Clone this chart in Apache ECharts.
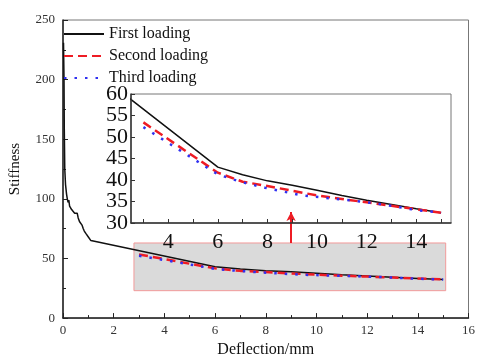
<!DOCTYPE html>
<html><head><meta charset="utf-8">
<script src="https://cdn.jsdelivr.net/npm/echarts@6/dist/echarts.min.js"></script>
<style>html,body{margin:0;padding:0;background:#fff}#c{width:478px;height:363px}</style>
</head><body><div id="c"></div>
<script>
var seriesNames = ['First loading', 'Second loading', 'Third loading'];
var firstLoading = [[0.02,231],[0.04,200],[0.05,160],[0.07,125],[0.1,112],[0.14,104],[0.17,100],[0.2,97],[0.23,99],[0.26,94],[0.3,95],[0.34,91],[0.4,90],[0.46,88],[0.52,87],[0.56,88],[0.6,84],[0.65,81],[0.7,80],[0.75,78],[0.8,75],[0.84,73],[0.9,71],[1.0,68],[1.1,65],[6,43],[7,41.2],[8,39.8],[9,38.8],[10,37.6],[11,36.4],[12,35.3],[13,34.3],[14,33.3],[15,32.4]];
var secondLoading = [[3,53.4],[6,41.7],[7,39.6],[8,38.6],[9,37.5],[10,36.4],[11,35.6],[12,34.8],[13,34],[14,33.2],[15,32.4]];
var thirdLoading = [[3,52.3],[6,41.3],[6.9,39.6],[7.9,38.2],[9.4,36.4],[11.3,35.3],[12.3,34.6],[13,34],[14,33],[15,32.4]];
var insetXLabels = [4,6,8,10,12,14];
var insetXTicks = [3,4,5,6,7,8,9,10,11,12,13,14,15];
var insetYLabelsA = [30,40,50,60];
var insetYLabelsB = [35,45,55];
var zoomBox = [[2.8,63],[15.1,23]];
var arrowLine = [[9,63],[9,89]];

var serif = '"Liberation Serif","DejaVu Serif",serif';
var colors = ['#111111','#ee1c24','#3030f0'];
var styles = [
  {type:'solid', width:1.5},
  {type:[9,5], width:2.5},
  {type:[2.5,8], width:2.5}
];
var allData = [firstLoading, secondLoading, thirdLoading];

var series = [];
for (var i=0;i<3;i++){
  var s = {name:seriesNames[i], type:'line', xAxisIndex:0, yAxisIndex:0, data:allData[i], symbol:'none',
    lineStyle:Object.assign({color:colors[i]}, styles[i]), itemStyle:{color:colors[i]}, z:3};
  if (i===0){
    s.markArea = {silent:true, itemStyle:{color:'rgba(205,205,205,0.75)', borderColor:'#f29a9a', borderWidth:1},
      data:[[{coord:zoomBox[0]},{coord:zoomBox[1]}]]};
    s.markLine = {silent:true, symbol:['none','arrow'], symbolSize:[7,9], label:{show:false},
      lineStyle:{color:'#ee1c24', width:2, type:'solid'},
      data:[[{coord:arrowLine[0]},{coord:arrowLine[1]}]]};
  }
  series.push(s);
  series.push({name:seriesNames[i], type:'line', xAxisIndex:1, yAxisIndex:1, data:allData[i], symbol:'none',
    lineStyle:Object.assign({color:colors[i]}, styles[i]), itemStyle:{color:colors[i]}, z:5});
}

var insetYLabelStyle = {fontFamily:serif, fontSize:22, color:'#111', margin:3, showMinLabel:true, showMaxLabel:true};

var chart = echarts.init(document.getElementById('c'), null, {renderer:'canvas'});
chart.setOption({
  animation:false,
  backgroundColor:'#fff',
  legend:{data:seriesNames, orient:'vertical', left:58, top:21, itemWidth:40, itemHeight:14, itemGap:6,
    itemStyle:{opacity:0},
    textStyle:{fontFamily:serif, fontSize:16, color:'#111'}},
  grid:[
    {left:60, top:20, right:5, bottom:37, show:true, borderColor:'#777', borderWidth:1, backgroundColor:'transparent'},
    {left:131, top:94, right:27, bottom:140, show:true, borderColor:'#777', borderWidth:1, backgroundColor:'#fff', z:4}
  ],
  xAxis:[
    {type:'value', gridIndex:0, min:0, max:16, interval:2, name:'Deflection/mm', nameLocation:'middle', nameGap:21,
      nameTextStyle:{fontFamily:serif, fontSize:16, color:'#111'},
      axisLine:{lineStyle:{color:'#222', width:1.5}}, axisTick:{inside:true, length:5, lineStyle:{color:'#222'}},
      minorTick:{show:true, splitNumber:2, length:3, lineStyle:{color:'#222'}},
      axisLabel:{fontFamily:serif, fontSize:13, color:'#333', margin:6}, splitLine:{show:false}},
    {type:'value', gridIndex:1, min:2.5, max:15.4, z:6,
      axisLine:{lineStyle:{color:'#333', width:1.5}},
      axisTick:{inside:true, length:4, lineStyle:{color:'#333'}, customValues:insetXTicks},
      axisLabel:{fontFamily:serif, fontSize:22, color:'#111', margin:8, customValues:insetXLabels}, splitLine:{show:false}}
  ],
  yAxis:[
    {type:'value', gridIndex:0, min:0, max:250, interval:50, name:'Stiffness', nameLocation:'middle', nameGap:40,
      nameTextStyle:{fontFamily:serif, fontSize:15, color:'#111'},
      axisLine:{show:true, lineStyle:{color:'#222', width:1.5}}, axisTick:{show:true, inside:true, length:5, lineStyle:{color:'#222'}},
      minorTick:{show:true, splitNumber:2, length:3, lineStyle:{color:'#222'}},
      axisLabel:{fontFamily:serif, fontSize:13, color:'#333', margin:8}, splitLine:{show:false}},
    {type:'value', gridIndex:1, min:30, max:60, interval:5, z:6, position:'left',
      axisLine:{show:true, lineStyle:{color:'#333', width:1.5}}, axisTick:{show:true, inside:true, length:4, lineStyle:{color:'#333'}},
      axisLabel:Object.assign({customValues:insetYLabelsA}, insetYLabelStyle), splitLine:{show:false}},
    {type:'value', gridIndex:1, min:30, max:60, interval:5, z:6, position:'left', offset:0,
      axisLine:{show:false}, axisTick:{show:false},
      axisLabel:Object.assign({customValues:insetYLabelsB}, insetYLabelStyle), splitLine:{show:false}}
  ],
  series:series
});
</script></body></html>
